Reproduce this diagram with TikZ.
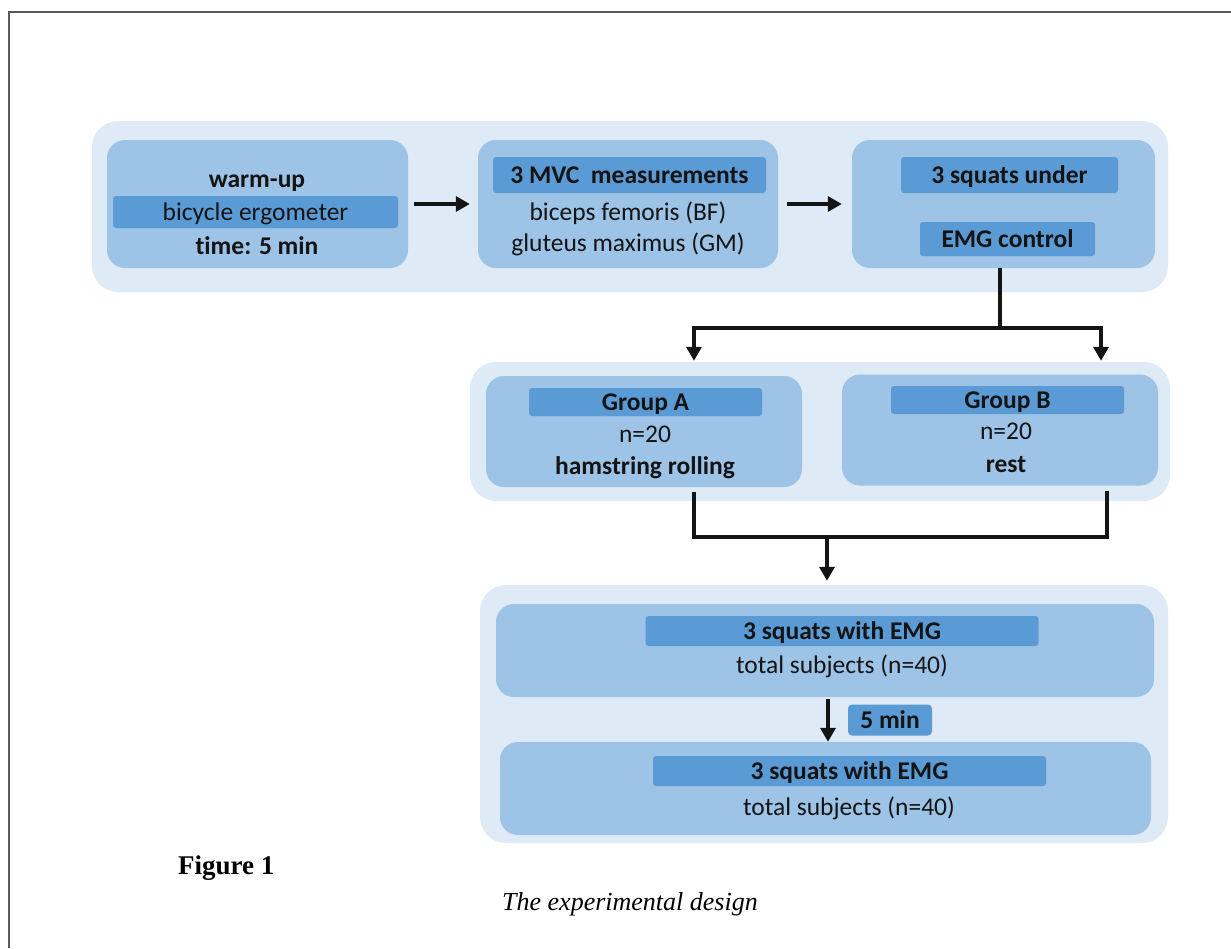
\documentclass[tikz,border=0pt]{standalone}
\usepackage{fontspec}
\setmainfont{Liberation Serif}
\newfontfamily\boxfont[Ligatures=NoCommon]{Carlito}
\usetikzlibrary{arrows.meta}
\definecolor{panelc}{RGB}{222,234,246}
\definecolor{boxc}{RGB}{157,195,230}
\definecolor{bandc}{RGB}{91,155,213}
\definecolor{inkc}{RGB}{20,20,20}
\definecolor{framec}{RGB}{90,90,90}
\begin{document}
\begin{tikzpicture}[x=1pt,y=-1pt,
  panel/.style={fill=panelc, draw=none, rounded corners=26pt, inner sep=0pt},
  box/.style={fill=boxc, draw=none, rounded corners=18pt, inner sep=0pt},
  band/.style={fill=bandc, draw=none, rounded corners=3pt, inner sep=0pt, text=inkc,
    font=\boxfont\fontsize{25.5}{30}\selectfont\bfseries, text height=16pt, text depth=0pt},
  txt/.style={inner sep=0pt, text=inkc, font=\boxfont\fontsize{25.5}{30}\selectfont,
    text height=16pt, text depth=0pt},
  btxt/.style={txt, font=\boxfont\fontsize{25.5}{30}\selectfont\bfseries},
  arr/.style={line width=4pt, draw=inkc, -{Triangle[length=14pt,width=15pt]}},
  link/.style={line width=4pt, draw=inkc}]
\useasboundingbox (0,0) rectangle (1231,948);
\draw[line width=1.5pt, framec] (9,948) -- (9,12) -- (1231,12);

% ---------- row 1 ----------
\node[panel, minimum width=1076pt, minimum height=171pt] (p1) at (630,206.5) {};
\node[box, minimum width=301pt, minimum height=128pt] (wu) at (257.5,204) {};
\node[btxt] (wu1) at (257,179) {warm-up};
\node[band, minimum width=285pt, minimum height=32pt, font=\boxfont\fontsize{25.5}{30}\selectfont] (wu2) at (255.5,212) {bicycle ergometer};
\node[btxt] (wu3) at (257,246) {time: 5 min};

\node[box, minimum width=300pt, minimum height=128pt] (mvc) at (628,204) {};
\node[band, minimum width=273pt, minimum height=36pt] (mvc1) at (629.5,175) {3 MVC\ \ measurements};
\node[txt] (mvc2) at (628,212) {biceps femoris (BF)};
\node[txt] (mvc3) at (628,243) {gluteus maximus (GM)};

\node[box, minimum width=303pt, minimum height=128pt] (sq) at (1003.5,204) {};
\node[band, minimum width=217pt, minimum height=36pt] (sq1) at (1009.5,175) {3 squats under};
\node[band, minimum width=175pt, minimum height=34pt] (sq2) at (1007.5,239) {EMG control};

\draw[arr] ([xshift=6pt]wu.east) -- ([xshift=-8pt]mvc.west);
\draw[arr] ([xshift=9pt]mvc.east) -- ([xshift=-10pt]sq.west);

% ---------- row 2 ----------
\node[panel, minimum width=700pt, minimum height=139pt] (p2) at (820,431.5) {};
\node[box, minimum width=316pt, minimum height=111pt] (gA) at (644,431.5) {};
\node[band, minimum width=233pt, minimum height=28pt] (gA1) at (645.5,402) {Group A};
\node[txt] (gA2) at (645,434) {n=20};
\node[btxt] (gA3) at (645,466) {hamstring rolling};

\node[box, minimum width=316pt, minimum height=111pt] (gB) at (1000,430) {};
\node[band, minimum width=233pt, minimum height=28pt] (gB1) at (1007.5,400) {Group B};
\node[txt] (gB2) at (1006,431) {n=20};
\node[btxt] (gB3) at (1006,464) {rest};

\coordinate (j1) at (1000,328);
\coordinate (ja) at (694,328);
\coordinate (jb) at (1101,328);
\draw[link] (sq.south -| j1) -- (j1);
\draw[arr] (j1) -| ([yshift=1pt]ja |- p2.north);
\draw[arr] (j1) -| ([yshift=1pt]jb |- p2.north);

% ---------- row 3 ----------
\node[panel, minimum width=688pt, minimum height=258pt] (p3) at (824,714) {};
\node[box, minimum width=658pt, minimum height=93pt] (s1) at (825,650.5) {};
\node[band, minimum width=393pt, minimum height=30pt] (s11) at (842,631) {3 squats with EMG};
\node[txt] (s12) at (842,665) {total subjects (n=40)};

\node[box, minimum width=651pt, minimum height=93pt] (s2) at (825.5,788.5) {};
\node[band, minimum width=393pt, minimum height=30pt] (s21) at (849.5,771) {3 squats with EMG};
\node[txt] (s22) at (849,807) {total subjects (n=40)};

\node[band, minimum width=84pt, minimum height=31pt, rounded corners=4pt] (five) at (890,720) {5 min};

\coordinate (ka) at (694,537);
\coordinate (kb) at (1107,537);
\coordinate (km) at (827,537);
\coordinate (a5) at (828,720);
\draw[link, shorten <=5pt, shorten >=5pt] (gA.south -| ka) -- (ka) -- (kb) -- (gB.south -| kb);
\draw[arr, shorten >=4pt] (km) -- (km |- p3.north);
\draw[arr, shorten <=2pt] (s1.south -| a5) -- (s2.north -| a5);

% ---------- caption ----------
\node[anchor=west, inner sep=0pt, font=\bfseries\fontsize{27}{32}\selectfont, text height=18pt, text depth=0pt] (fig) at (178,865) {Figure 1};
\node[inner sep=0pt, font=\itshape\fontsize{26}{30}\selectfont, text height=17pt, text depth=0pt] (cap) at (630,902) {The experimental design};
\end{tikzpicture}
\end{document}
